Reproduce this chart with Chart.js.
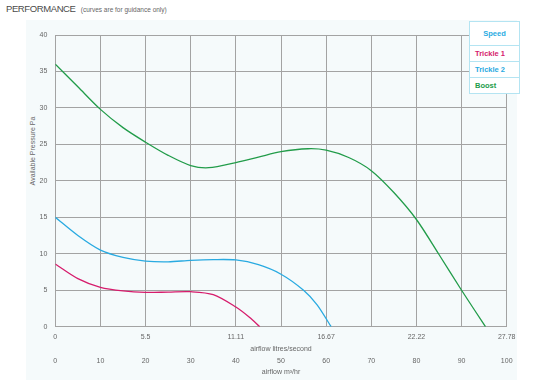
<!DOCTYPE html>
<html>
<head>
<meta charset="utf-8">
<script src="https://cdn.jsdelivr.net/npm/chart.js@4"></script>
<style>
  html, body { margin: 0; padding: 0; background: #ffffff; }
  body { width: 548px; height: 380px; position: relative; overflow: hidden; font-family: "Liberation Sans", Arial, sans-serif; }
  .panel { position: absolute; left: 26px; top: 20px; width: 491px; height: 360px; background: #f5fafb; }
  .heading { position: absolute; left: 6px; top: 3px; color: #4a4a4a; font-size: 9.5px; letter-spacing: -0.4px; }
  .heading small { font-size: 6.5px; color: #666; margin-left: 3px; letter-spacing: 0; }
  .ytitle { position: absolute; left: 33.3px; top: 151px; width: 120px; margin-left: -60px; margin-top: -5px; height: 10px; line-height: 10px;
            text-align: center; font-size: 7px; color: #666; transform: rotate(-90deg); }
  canvas { position: absolute; left: 0; top: 0; }
  .legend { position: absolute; left: 469px; top: 21px; width: 49px; background: #ffffff; border: 1px solid #b4e4f2; font-weight: bold; font-size: 7.5px; }
  .legend div { border-top: 1px solid #b4e4f2; height: 15px; line-height: 15px; padding-left: 5px; }
  .legend div.head { border-top: none; height: 23px; line-height: 23px; text-align: center; padding-left: 0; color: #29abe2; }
</style>
</head>
<body>
<div class="panel"></div>
<div class="heading">PERFORMANCE <small>(curves are for guidance only)</small></div>
<div class="ytitle">Available Pressure Pa</div>
<canvas id="perfChart" width="548" height="380"></canvas>
<div class="legend" id="legend"></div>
<script>
const speedNames = ["Trickle 1", "Trickle 2", "Boost"];
const speedColors = ["#d61c6c", "#29aae1", "#229c4a"];

// airflow in m3/hr
const trickle1X = [0, 5, 10, 15, 20, 25, 30, 35, 40, 43, 45.3];
const trickle1Y = [8.6, 6.6, 5.4, 4.9, 4.7, 4.75, 4.8, 4.4, 2.7, 1.3, 0];

const trickle2X = [0, 5, 10, 15, 20, 25, 30, 35, 40, 45, 50, 55, 58, 61.1];
const trickle2Y = [15, 12.5, 10.5, 9.5, 9.0, 8.9, 9.1, 9.2, 9.15, 8.5, 7.2, 5, 3, 0];

const boostX = [0, 5, 10, 15, 20, 25, 30, 34, 40, 45, 50, 56, 60, 65, 70, 75, 80, 85, 90, 95.3];
const boostY = [36, 32.9, 29.8, 27.3, 25.3, 23.5, 22.1, 21.8, 22.5, 23.25, 24.0, 24.4, 24.2, 23.2, 21.4, 18.4, 14.7, 9.9, 5, 0];

const m3Ticks = [0, 10, 20, 30, 40, 50, 60, 70, 80, 90, 100];
const litreTicks = ["0", "5.5", "11.11", "16.67", "22.22", "27.78"];
const pressureTicks = [0, 5, 10, 15, 20, 25, 30, 35, 40];

const seriesX = [trickle1X, trickle2X, boostX];
const seriesY = [trickle1Y, trickle2Y, boostY];

const legend = document.getElementById("legend");
legend.innerHTML = '<div class="head">Speed</div>' +
  speedNames.map((n, i) => '<div style="color:' + speedColors[i] + '">' + n + '</div>').join("");

const tickFont = { family: "Liberation Sans", size: 7 };
const gridColor = "#a3a3a3";

new Chart(document.getElementById("perfChart"), {
  type: "line",
  data: {
    datasets: speedNames.map((name, i) => ({
      label: name,
      data: seriesX[i].map((x, j) => ({ x: x, y: seriesY[i][j] })),
      borderColor: speedColors[i],
      borderWidth: 1.3,
      pointRadius: 0,
      tension: 0.3,
      xAxisID: "x",
      yAxisID: "y",
    })),
  },
  options: {
    responsive: false,
    animation: false,
    layout: { padding: { left: 28.8, right: 41.3, top: 35, bottom: 3.5 } },
    plugins: { legend: { display: false }, tooltip: { enabled: false } },
    scales: {
      y: {
        type: "linear",
        min: 0,
        max: 40,
        afterFit: (s) => { s.width = 26.5; },
        afterBuildTicks: (s) => { s.ticks = pressureTicks.map((v) => ({ value: v })); },
        ticks: { color: "#666", font: tickFont, padding: 8 },
        grid: { color: gridColor, drawTicks: false },
        border: { color: gridColor },
      },
      xl: {
        type: "linear",
        position: "bottom",
        weight: 0,
        min: 0,
        max: 100,
        afterFit: (s) => { s.height = 26.8; },
        afterBuildTicks: (s) => { s.ticks = litreTicks.map((t, i) => ({ value: i * 20 })); },
        ticks: { color: "#666", font: tickFont, padding: 6, maxRotation: 0, callback: (v, i) => litreTicks[i] },
        grid: { display: false, drawTicks: false },
        border: { display: true, color: gridColor },
        title: { display: true, text: "airflow litres/second", color: "#666", font: tickFont, padding: 0 },
      },
      x: {
        type: "linear",
        position: "bottom",
        weight: 1,
        min: 0,
        max: 100,
        afterFit: (s) => { s.height = 23; },
        afterBuildTicks: (s) => { s.ticks = m3Ticks.map((v) => ({ value: v })); },
        ticks: { color: "#666", font: tickFont, padding: 3.3, maxRotation: 0 },
        grid: { color: gridColor, drawTicks: false },
        border: { display: false },
        title: { display: true, text: "airflow m³/hr", color: "#666", font: tickFont, padding: 0 },
      },
    },
  },
});
</script>
</body>
</html>
